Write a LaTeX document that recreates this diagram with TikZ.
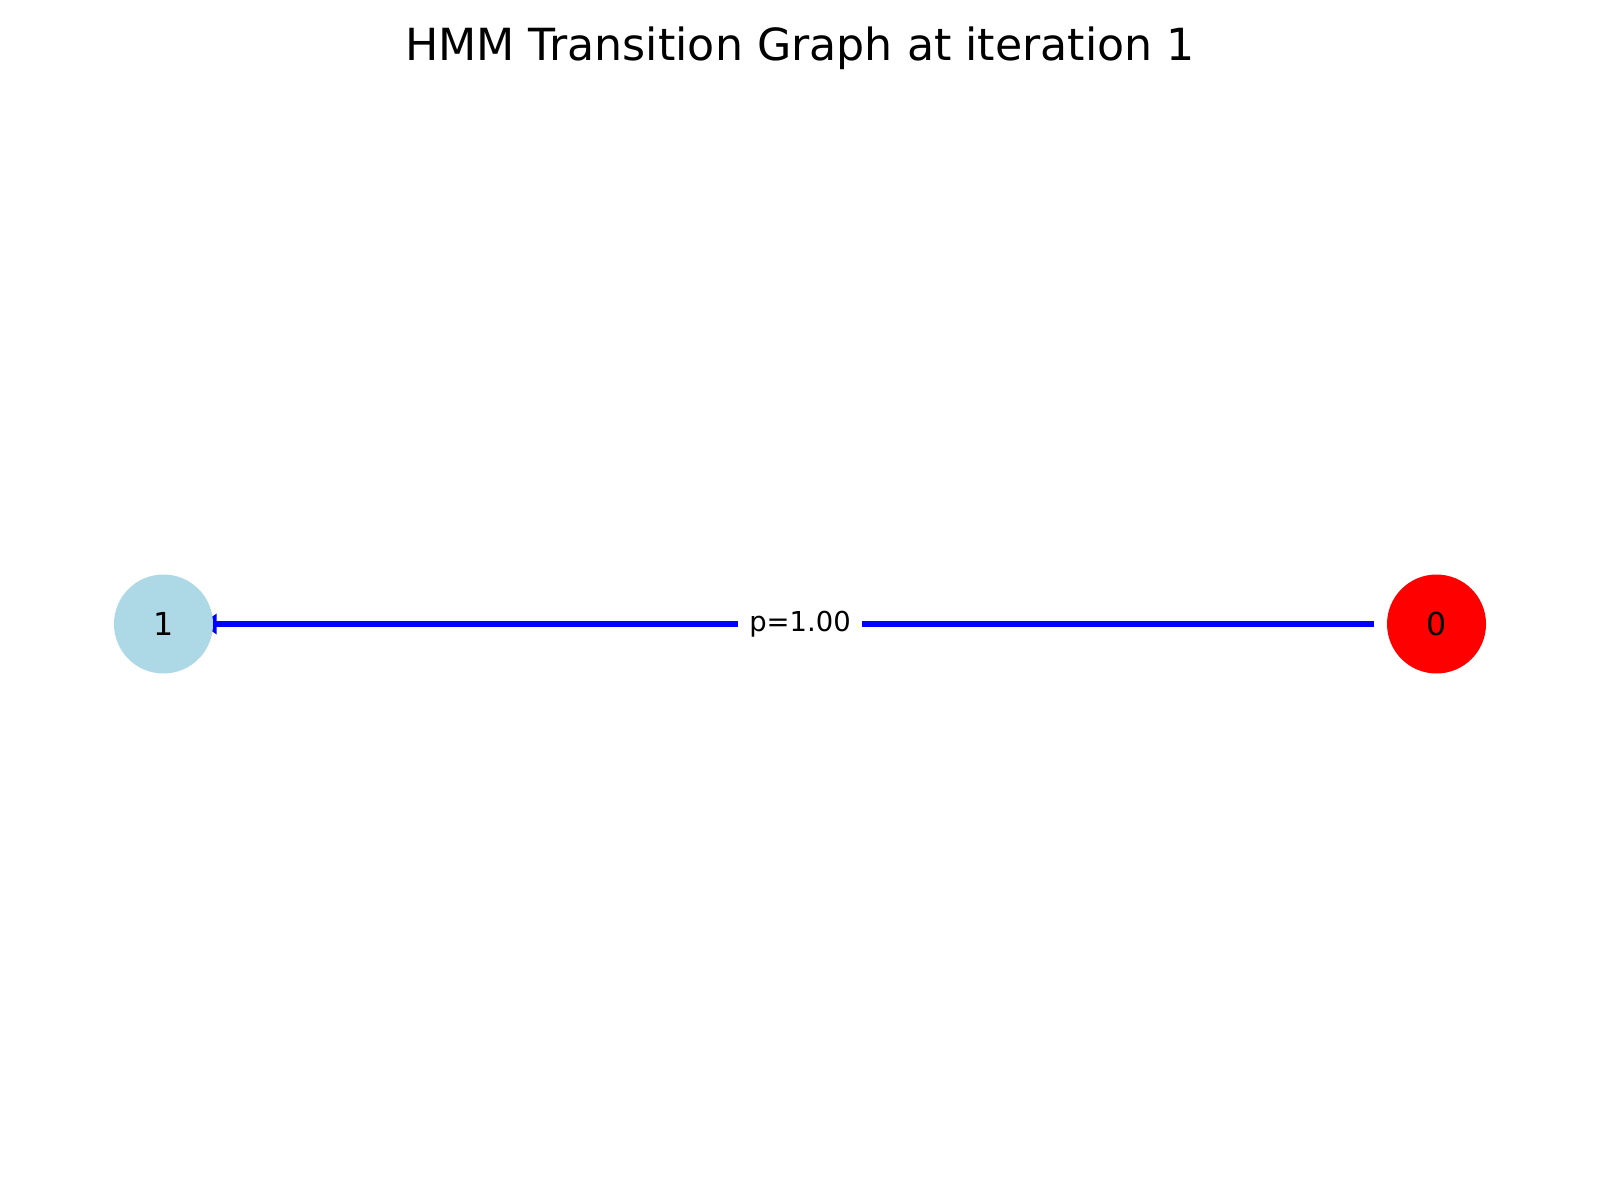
\documentclass[tikz,border=0pt]{standalone}
\usepackage{fontspec}
\setmainfont{DejaVu Sans}
\usepackage{tikz}
\usetikzlibrary{arrows.meta,backgrounds,positioning}
\definecolor{statebg}{RGB}{173,216,230}
\tikzset{
  state/.style={circle,minimum size=0.99cm,inner sep=0pt,font=\fontsize{9}{9}\selectfont},
  edgelabel/.style={fill=white,inner xsep=0.11cm,inner ysep=0.05cm,font=\fontsize{7.8}{7.8}\selectfont},
}
\begin{document}
\begin{tikzpicture}
			\useasboundingbox (0,0) rectangle (16,12);
			\node (title) at (8.0,11.52) {\fontsize{12.6}{12.6}\selectfont HMM Transition Graph at iteration 1};
			\node[state,fill=statebg] (1) at (1.635,5.76) {1};
			\node[state,fill=red] (0) at (14.365,5.76) {0};
			\begin{pgfonlayer}{background}
			\draw [-{Triangle[length=0.15cm,width=0.2cm]},blue,line width=0.055cm,shorten <=0.12cm,shorten >=-0.12cm] (0)--(1) node[midway,edgelabel,text=black] {p=1.00};
			\end{pgfonlayer}
\end{tikzpicture}
\end{document}
